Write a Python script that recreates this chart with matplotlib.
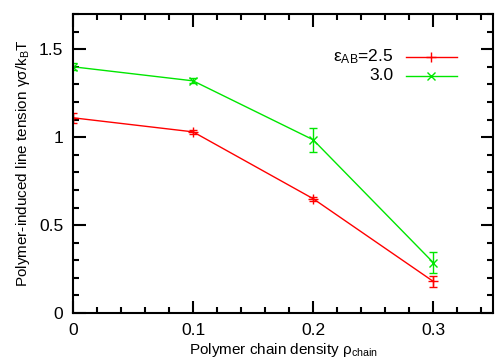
import matplotlib
matplotlib.use("Agg")
import matplotlib.pyplot as plt
from matplotlib.ticker import MultipleLocator, FuncFormatter

plt.rcdefaults()
plt.rcParams['font.family'] = ['Liberation Sans', 'DejaVu Sans']
plt.rcParams.update({
    'xtick.direction': 'in', 'ytick.direction': 'in',
    'xtick.top': True, 'ytick.right': True,
    'xtick.major.size': 9, 'ytick.major.size': 9,
    'xtick.minor.size': 4.5, 'ytick.minor.size': 4.5,
    'xtick.major.width': 1.5, 'ytick.major.width': 1.5,
    'xtick.minor.width': 1.5, 'ytick.minor.width': 1.5,
    'xtick.major.pad': 7, 'ytick.major.pad': 7,
    'xtick.labelsize': 12.5, 'ytick.labelsize': 12.5,
    'axes.linewidth': 1.5,
})

density = [0.0, 0.1, 0.2, 0.3]
tension_25 = [1.11, 1.03, 0.65, 0.18]
err_25 = [0.03, 0.01, 0.012, 0.033]
tension_30 = [1.40, 1.32, 0.985, 0.287]
err_30 = [0.02, 0.015, 0.068, 0.06]
labels = [r'$\mathregular{\varepsilon_{AB}}$=2.5', '3.0']
colors = ['#ff0000', '#00e600']
markers = ['+', 'x']

fig = plt.figure(figsize=(4.95, 3.64), dpi=100)
ax = fig.add_axes([0.1475, 0.140, 0.849, 0.8215])

for y, e, c, m, ms in [(tension_25, err_25, colors[0], markers[0], 7),
                       (tension_30, err_30, colors[1], markers[1], 6)]:
    ax.errorbar(density, y, yerr=e, color=c, marker=m, markersize=ms,
                lw=1.0, elinewidth=1.0, capsize=2.7, capthick=1.0)

# legend (gnuplot style: right-aligned text, sample line on the right)
leg_rows = [0.856, 0.793]
for lab, c, m, ms, yy in zip(labels, colors, markers, [7, 6], leg_rows):
    ax.plot([0.792, 0.9145], [yy, yy], color=c, lw=1.0, transform=ax.transAxes)
    ax.plot([0.853], [yy], color=c, marker=m, markersize=ms, transform=ax.transAxes)
    ax.text(0.762, yy, lab, ha='right', va='center', fontsize=12.5,
            transform=ax.transAxes)

ax.set_xlim(0, 0.35)
ax.set_ylim(0, 1.7)
ax.xaxis.set_major_locator(MultipleLocator(0.1))
ax.yaxis.set_major_locator(MultipleLocator(0.5))
ax.xaxis.set_minor_locator(MultipleLocator(0.02))
ax.yaxis.set_minor_locator(MultipleLocator(0.1))
ax.xaxis.set_major_formatter(FuncFormatter(lambda v, p: f'{v:g}'))
ax.yaxis.set_major_formatter(FuncFormatter(lambda v, p: f'{v:g}'))

ax.set_xlabel(r'Polymer chain density $\mathregular{\rho_{chain}}$', fontsize=11, labelpad=2)
ax.set_ylabel(r'Polymer-induced line tension $\mathregular{\gamma\sigma/k_B T}$', fontsize=11, labelpad=5)

fig.savefig('out.png', dpi=100)
